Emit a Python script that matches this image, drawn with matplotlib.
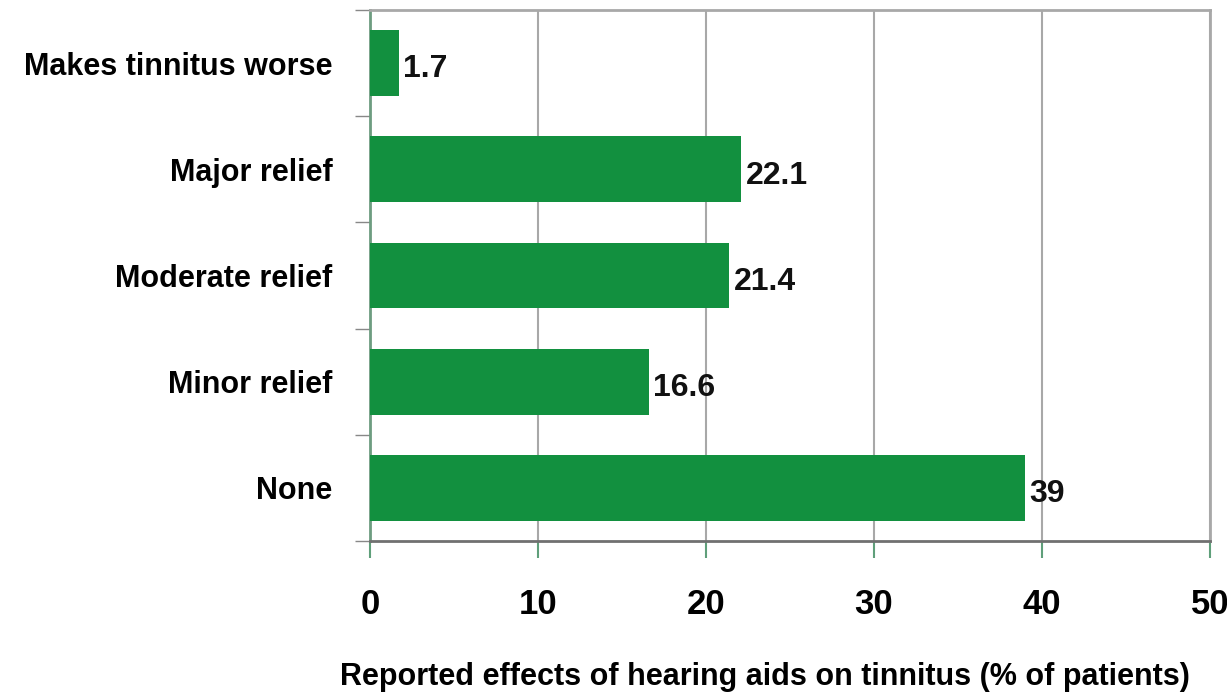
import matplotlib
matplotlib.use("Agg")
import matplotlib.pyplot as plt
import numpy as np

categories = ["None", "Minor relief", "Moderate relief", "Major relief", "Makes tinnitus worse"]
values = [39, 16.6, 21.4, 22.1, 1.7]
value_labels = ["39", "16.6", "21.4", "22.1", "1.7"]
xticks = [0, 10, 20, 30, 40, 50]

plt.rcParams["font.family"] = ["Liberation Sans Narrow", "Liberation Sans", "DejaVu Sans"]
plt.rcParams["font.weight"] = "bold"

fig = plt.figure(figsize=(12.27, 6.96), dpi=100)
ax = fig.add_axes([0.3015, 0.2227, 0.6846, 0.7629])

y = np.arange(len(categories))
ax.barh(y, values, height=0.62, color="#12903f", zorder=3)
for yi, v, lab in zip(y, values, value_labels):
    ax.text(v + 0.25, yi - 0.06, lab, va="center", ha="left", fontsize=23,
            fontweight="bold", color="#111111", zorder=4)

ax.set_xlim(0, 50)
ax.set_ylim(-0.5, len(categories) - 0.5)
ax.set_xticks(xticks)
ax.set_xticklabels([str(t) for t in xticks], fontsize=25, fontweight="bold")
ax.tick_params(axis="x", length=12, width=1.5, color="#5f9f7a", pad=22)
ax.xaxis.grid(True, color="#a8a8a8", linewidth=1.5, zorder=0)

# category labels between tick marks at the boundaries
ax.set_yticks(np.arange(len(categories) + 1) - 0.5)
ax.set_yticklabels([])
ax.set_yticks(y, minor=True)
ax.set_yticklabels(categories, minor=True, fontsize=22, fontweight="bold")
ax.tick_params(axis="y", which="major", length=11, width=1, color="#888888")
ax.tick_params(axis="y", which="minor", length=0, pad=27)

ax.spines["left"].set_color("#6d9c80")
ax.spines["left"].set_linewidth(2)
ax.spines["bottom"].set_color("#707070")
ax.spines["bottom"].set_linewidth(2)
for s in ("top", "right"):
    ax.spines[s].set_color("#a8a8a8")
    ax.spines[s].set_linewidth(2)

ax.set_xlabel("Reported effects of hearing aids on tinnitus (% of patients)",
              fontsize=22, fontweight="bold")
ax.xaxis.set_label_coords(0.47, -0.228)

fig.savefig("out.png", dpi=100)
